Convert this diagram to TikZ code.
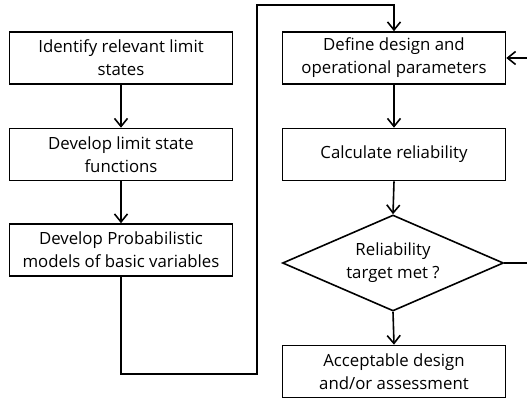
\documentclass[tikz,border=0pt]{standalone}
\usepackage{fontspec}
\setmainfont{Open Sans}
\usetikzlibrary{arrows.meta,shapes.geometric}
\tikzset{
  box/.style={draw,line width=1.6pt,minimum width=223pt,minimum height=52pt,align=center,inner sep=0pt,font=\fontsize{16.8}{23}\selectfont},
  dia/.style={draw,diamond,line width=1.6pt,minimum width=221pt,minimum height=96pt,aspect=2.3,align=center,inner sep=0pt,font=\fontsize{16.8}{23}\selectfont},
  arr/.style={line width=1.6pt,-{Straight Barb[length=8pt,width=13pt]}}
}
\begin{document}
\begin{tikzpicture}[x=1pt,y=1pt]
\useasboundingbox (0,-398) rectangle (527,0);
\node[box] (a) at (121,-58) {Identify relevant limit\\states};
\node[box] (b) at (121,-154.5) {Develop limit state\\functions};
\node[box] (c) at (121,-250) {Develop Probabilistic\\models of basic variables};
\node[box] (d) at (394,-58) {Define design and\\operational parameters};
\node[box] (e) at (394,-154.5) {Calculate reliability};
\node[dia] (f) at (393,-263) {Reliability\\target met ?};
\node[box] (g) at (394,-371.5) {Acceptable design\\and/or assessment};
\coordinate (p1) at (121,-374);
\coordinate (p2) at (257,-374);
\coordinate (p3) at (257,-5);
\coordinate (p4) at (394,-5);
\coordinate (q1) at (535,-263);
\coordinate (q2) at (535,-58);
\draw[arr] (a.south) -- (b.north);
\draw[arr] (b.south) -- (c.north);
\draw[arr] (c.south) -- (p1) -- (p2) -- (p3) -- (p4) -- (d.north);
\draw[arr] (d.south) -- (e.north);
\draw[arr] (e.south) -- (f.north);
\draw[arr] (f.south) -- (g.north);
\draw[arr] (f.east) -- (q1) -- (q2) -- (d.east);
\end{tikzpicture}
\end{document}
